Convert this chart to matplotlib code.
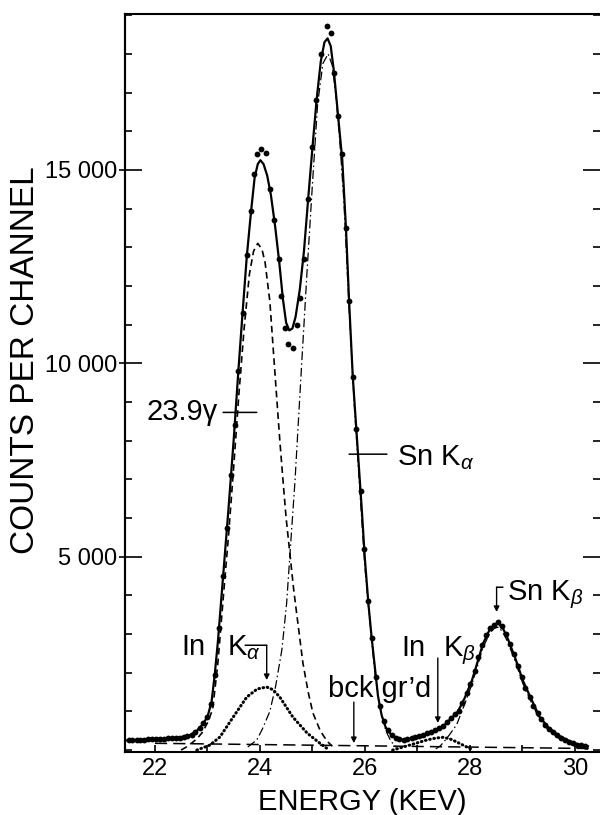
import matplotlib
matplotlib.use('Agg')
import matplotlib.pyplot as plt
from matplotlib.ticker import MultipleLocator, FixedLocator

plt.rcParams['font.family'] = ['Liberation Sans', 'DejaVu Sans']
plt.rcParams['mathtext.fontset'] = 'custom'
plt.rcParams['mathtext.rm'] = 'Liberation Sans'
plt.rcParams['mathtext.it'] = 'Liberation Sans:italic'
plt.rcParams['mathtext.bf'] = 'Liberation Sans:bold'

# measured channels (dots), energy in keV, counts per channel
data_x = [21.5, 21.57, 21.65, 21.72, 21.8, 21.87, 21.95, 22.02, 22.1, 22.17, 22.25, 22.32,
          22.4, 22.47, 22.55, 22.62, 22.7, 22.77, 22.85, 22.92, 23.0, 23.07, 23.14, 23.22,
          23.3, 23.37, 23.45, 23.52, 23.59, 23.67, 23.75, 23.83, 23.89, 23.95, 24.03, 24.11,
          24.19, 24.27, 24.36, 24.41, 24.48, 24.54, 24.63, 24.7, 24.76, 24.84, 24.92, 25.0,
          25.07, 25.16, 25.28, 25.36, 25.41, 25.49, 25.57, 25.64, 25.7, 25.77, 25.84, 25.92,
          25.99, 26.06, 26.14, 26.21, 26.29, 26.36, 26.44, 26.51, 26.59, 26.66, 26.74, 26.81,
          26.89, 26.96, 27.04, 27.11, 27.19, 27.26, 27.34, 27.41, 27.49, 27.56, 27.64, 27.71,
          27.79, 27.86, 27.94, 28.01, 28.09, 28.16, 28.24, 28.31, 28.39, 28.46, 28.54, 28.61,
          28.69, 28.76, 28.84, 28.91, 28.99, 29.06, 29.14, 29.21, 29.29, 29.36, 29.44, 29.51,
          29.59, 29.66, 29.74, 29.81, 29.89, 29.96, 30.04, 30.11, 30.19]
data_y = [260, 262, 265, 268, 272, 276, 282, 288, 293, 298, 302, 308,
          315, 322, 335, 360, 400, 460, 560, 690, 860, 1200, 1950, 3150,
          4500, 5750, 7100, 8400, 9800, 11300, 12800, 13950, 14900, 15400, 15530, 15430,
          14500, 13700, 12700, 11750, 10900, 10500, 10400, 11000, 11700, 12700, 14250, 15580,
          16800, 18000, 18730, 18550, 17500, 16400, 15400, 13500, 11600, 9640, 8300, 6700,
          5200, 3850, 2900, 1900, 1150, 750, 520, 400, 320, 280, 270, 280,
          300, 330, 360, 390, 430, 470, 520, 570, 620, 720, 820, 920,
          1020, 1220, 1470, 1700, 2050, 2400, 2720, 2980, 3150, 3240, 3300, 3200,
          3000, 2750, 2480, 2180, 1880, 1600, 1380, 1150, 950, 800, 660, 550,
          460, 380, 310, 260, 210, 170, 140, 120, 110]

# fitted sum (solid line)
fit_x = [21.45, 21.7, 22.0, 22.3, 22.5, 22.67, 22.8, 22.9, 23.0, 23.08, 23.14, 23.2,
         23.3, 23.4, 23.5, 23.59, 23.67, 23.75, 23.83, 23.9, 23.96, 24.01, 24.07, 24.14,
         24.21, 24.29, 24.37, 24.44, 24.5, 24.56, 24.62, 24.68, 24.76, 24.84, 24.92, 25.0,
         25.08, 25.16, 25.23, 25.29, 25.35, 25.41, 25.49, 25.57, 25.64, 25.7, 25.77, 25.87,
         25.94, 26.0, 26.07, 26.13, 26.19, 26.25, 26.32, 26.4, 26.5, 26.6, 26.72, 26.85,
         27.0, 27.15, 27.3, 27.42, 27.5, 27.57, 27.65, 27.77, 27.9, 28.04, 28.13, 28.25,
         28.38, 28.47, 28.55, 28.64, 28.72, 28.86, 29.01, 29.18, 29.33, 29.5, 29.7, 29.9,
         30.1, 30.25]
fit_y = [250, 265, 285, 305, 330, 390, 500, 650, 850, 1250, 1950, 2800,
         4500, 6200, 8000, 9800, 11300, 12750, 13900, 14800, 15150, 15250, 15150, 14850,
         14350, 13550, 12600, 11650, 11050, 10850, 10900, 11200, 11900, 12900, 14250, 15550,
         16800, 17800, 18300, 18400, 18200, 17550, 16400, 15250, 13500, 11600, 9650, 7650,
         6250, 4950, 3750, 2900, 2150, 1400, 900, 580, 400, 300, 265, 290,
         340, 400, 490, 570, 630, 720, 830, 990, 1340, 1800, 2200, 2750,
         3120, 3250, 3280, 3120, 2890, 2400, 1800, 1290, 860, 580, 370, 230,
         130, 100]

# 23.9 keV gamma line (dashed)
gam_x = [22.5, 22.6, 22.7, 22.8, 22.9, 23.0, 23.1, 23.2, 23.3, 23.4, 23.5, 23.6, 23.7,
         23.8, 23.88, 23.96, 24.04, 24.1, 24.19, 24.3, 24.38, 24.44, 24.5, 24.57, 24.64,
         24.7, 24.82, 24.92, 25.01, 25.15, 25.28, 25.38]
gam_y = [0, 80, 180, 290, 450, 700, 1050, 2250, 3900, 5500, 7300, 9200, 10900,
         12300, 12900, 13100, 12950, 12600, 11600, 9500, 8000, 6980, 6000, 5100, 4200,
         3540, 2250, 1500, 960, 500, 230, 100]

# Sn K-alpha (dash-dot)
snka_x = [23.77, 23.94, 24.05, 24.19, 24.3, 24.42, 24.51, 24.57, 24.67, 24.78, 24.9, 25.0,
          25.1, 25.2, 25.3, 25.38, 25.45, 25.52, 25.6, 25.7, 25.8, 25.9, 26.0, 26.1,
          26.2, 26.3, 26.4, 26.5, 26.6]
snka_y = [80, 260, 550, 1000, 1650, 2600, 3800, 5000, 6980, 9600, 12400, 14600,
          16700, 17750, 18000, 17700, 16900, 15800, 14200, 11400, 8900, 6800, 4750, 3250,
          1900, 1000, 500, 220, 70]

# Sn K-beta (dash-dot)
snkb_x = [27.35, 27.43, 27.5, 27.62, 27.75, 27.9, 28.04, 28.13, 28.25, 28.38, 28.47, 28.55,
          28.64, 28.72, 28.86, 29.01, 29.18, 29.33, 29.5, 29.7, 29.9, 30.1, 30.25]
snkb_y = [30, 100, 200, 410, 660, 1180, 1700, 2100, 2650, 3020, 3150, 3180,
          3020, 2800, 2310, 1720, 1210, 790, 510, 300, 160, 60, 20]

# In K-alpha and In K-beta (dotted)
inka_x = [22.8, 23.05, 23.24, 23.49, 23.75, 23.95, 24.13, 24.25, 24.38, 24.63, 24.9, 25.14, 25.3]
inka_y = [0, 130, 340, 850, 1370, 1580, 1630, 1560, 1370, 850, 440, 180, 20]
inkb_x = [26.53, 26.86, 27.18, 27.35, 27.49, 27.62, 27.75, 27.94, 28.06]
inkb_y = [0, 130, 260, 310, 330, 290, 210, 80, 0]

# background (long dashes)
bg_x = [22.0, 30.3]
bg_y = [175, 40]

xtick_vals = [22, 24, 26, 28, 30]
xtick_labels = ['22', '24', '26', '28', '30']
ytick_vals = [5000, 10000, 15000]
ytick_labels = ['5 000', '10 000', '15 000']

fig = plt.figure(figsize=(6, 8.15), dpi=100)
ax = fig.add_axes([0.2083, 0.0773, 0.7917, 0.9055])

ax.plot(bg_x, bg_y, color='k', lw=1.1, dashes=(8, 4))
ax.plot(gam_x, gam_y, color='k', lw=1.2, dashes=(4, 2.5))
ax.plot(snka_x, snka_y, color='k', lw=0.9, dashes=(7, 2.5, 1.2, 2.5))
ax.plot(snkb_x, snkb_y, color='k', lw=0.9, dashes=(7, 2.5, 1.2, 2.5))
ax.plot(inka_x, inka_y, color='k', lw=2.2, linestyle=(0, (0.2, 1.2)), dash_capstyle='round')
ax.plot(inkb_x, inkb_y, color='k', lw=2.2, linestyle=(0, (0.2, 1.2)), dash_capstyle='round')
ax.plot(fit_x, fit_y, color='k', lw=1.6)
ax.plot(data_x, data_y, 'o', color='k', ms=4.2, mew=0)

ax.set_xlim(21.43, 30.48)
ax.set_ylim(-50, 19030)

ax.xaxis.set_major_locator(FixedLocator(xtick_vals))
ax.set_xticklabels(xtick_labels)
ax.xaxis.set_minor_locator(MultipleLocator(1))
ax.tick_params(axis='x', which='both', direction='in', length=5, width=1.2,
               top=False, labelsize=17, pad=4)

ax.yaxis.set_major_locator(FixedLocator(ytick_vals))
ax.yaxis.set_minor_locator(MultipleLocator(1000))
ax.tick_params(axis='y', which='major', direction='in', length=12.5, width=1.2,
               left=True, right=True, labelleft=False)
ax.tick_params(axis='y', which='minor', direction='in', length=5, width=1.2,
               left=True, right=True)

# outside stubs + labels on the left
sec = ax.secondary_yaxis('left')
sec.set_yticks(ytick_vals, ytick_labels)
sec.tick_params(direction='out', length=4.5, width=1.2, pad=1, labelsize=17)
sec.spines['left'].set_linewidth(1.5)

ax.spines['right'].set_visible(False)
for s in ['left', 'bottom', 'top']:
    ax.spines[s].set_linewidth(1.5)

ax.set_xlabel('ENERGY (KEV)', fontsize=21, labelpad=6)
fig.text(0.042, 1 - 360 / 815, 'COUNTS PER CHANNEL', rotation=90, fontsize=24,
         ha='center', va='center')

lbl = 21
line = dict(arrowstyle='-', lw=1.1, color='k', shrinkA=0, shrinkB=0)
arrow = dict(arrowstyle='-|>', lw=1.0, color='k', shrinkA=0, shrinkB=0, mutation_scale=8)

# 23.9 gamma
ax.text(23.2, 8730, '23.9\u03b3', fontsize=lbl, ha='right', va='center')
ax.annotate('', xy=(23.94, 8730), xytext=(23.3, 8730), arrowprops=line)

# Sn K alpha
ax.text(26.61, 7364, r'Sn K$_\alpha$', fontsize=lbl, ha='left', va='baseline')
ax.annotate('', xy=(25.7, 7650), xytext=(26.42, 7650), arrowprops=line)

# In K alpha
ax.text(22.51, 2450, 'In', fontsize=lbl, ha='left', va='baseline')
ax.text(23.37, 2450, r'K$_\alpha$', fontsize=lbl, ha='left', va='baseline')
ax.annotate('', xy=(24.13, 2710), xytext=(23.72, 2710), arrowprops=line)
ax.annotate('', xy=(24.13, 1810), xytext=(24.13, 2710), arrowprops=arrow)

# background
ax.text(25.3, 1370, "bck gr\u2019d", fontsize=lbl, ha='left', va='baseline')
ax.annotate('', xy=(25.79, 180), xytext=(25.79, 1240), arrowprops=arrow)

# In K beta
ax.text(26.7, 2430, 'In', fontsize=lbl, ha='left', va='baseline')
ax.text(27.49, 2430, r'K$_\beta$', fontsize=lbl, ha='left', va='baseline')
ax.annotate('', xy=(27.39, 700), xytext=(27.39, 2380), arrowprops=arrow)

# Sn K beta
ax.text(28.7, 3876, r'Sn K$_\beta$', fontsize=lbl, ha='left', va='baseline')
ax.annotate('', xy=(28.51, 4210), xytext=(28.63, 4210), arrowprops=line)
ax.annotate('', xy=(28.51, 3570), xytext=(28.51, 4210), arrowprops=arrow)

fig.savefig('out.png', dpi=100)
